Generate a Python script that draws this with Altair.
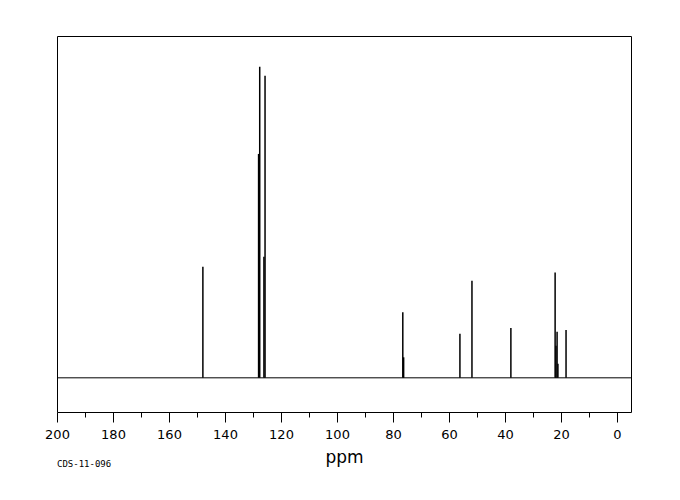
import altair as alt
import pandas as pd

# Peak positions (ppm) and heights (arbitrary units above baseline)
ppm = [147.9, 128.0, 127.6, 126.1, 125.7, 76.5, 76.2, 56.1, 51.8, 37.9,
       22.1, 21.8, 21.4, 21.1, 18.2]
height = [32.5, 65.5, 91.0, 35.4, 88.4, 19.2, 6.0, 12.9, 28.4, 14.6,
          30.8, 9.4, 13.5, 4.1, 14.0]

tick_values = list(range(200, -1, -10))
code_label = ["CDS-11-096"]

df = pd.DataFrame({"ppm": ppm, "height": height})

x_scale = alt.Scale(domain=[-5, 200], reverse=True, nice=False, zero=False)
y_scale = alt.Scale(domain=[-10, 100], nice=False, zero=False)

x_axis = alt.Axis(
    values=tick_values,
    labelExpr="datum.value % 20 === 0 ? datum.label : ''",
    tickSize={"condition": {"test": "datum.value % 20 === 0", "value": 10}, "value": 5},
    tickColor="black",
    tickWidth=1,
    domain=False,
    grid=False,
    labelFont="DejaVu Sans",
    labelFontSize=13,
    labelColor="black",
    labelPadding=6,
    labelFlush=False,
    title="ppm",
    titleFont="DejaVu Sans",
    titleFontSize=17,
    titleFontWeight="normal",
    titleColor="black",
    titlePadding=8,
)

peaks = alt.Chart(df).mark_rule(color="black", strokeWidth=1.5).encode(
    x=alt.X("ppm:Q", scale=x_scale, axis=x_axis),
    y=alt.Y("height:Q", scale=y_scale, axis=None),
    y2=alt.datum(0),
)

baseline = alt.Chart(pd.DataFrame({"b": [0]})).mark_rule(color="black", strokeWidth=1).encode(
    y=alt.Y("b:Q", scale=y_scale, axis=None)
)

code = alt.Chart(pd.DataFrame({"t": code_label})).mark_text(
    font="DejaVu Sans Mono", fontSize=9, align="left", baseline="middle", color="black"
).encode(
    text="t:N",
    x=alt.value(0),
    y=alt.value(428),
)

chart = alt.layer(baseline, peaks, code).properties(
    width=574,
    height=376,
    autosize=alt.AutoSizeParams(type="none"),
    padding={"left": 49, "top": 28, "right": 30, "bottom": 60},
).configure(background="white").configure_view(stroke="black", strokeWidth=1)

chart.save("out.html", embed_options={"renderer": "svg", "actions": False})
